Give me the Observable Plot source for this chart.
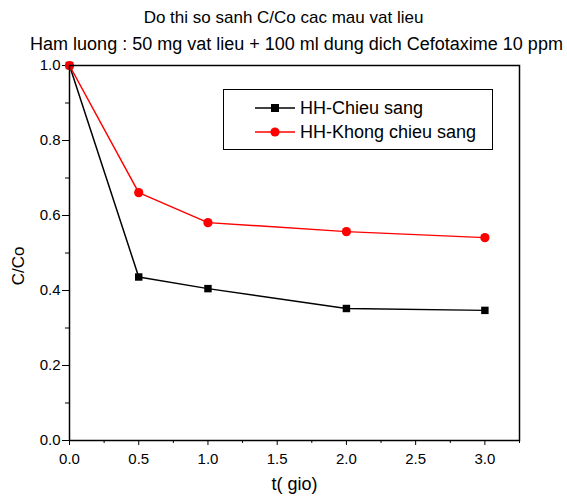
<!DOCTYPE html>
<html>
<head>
<meta charset="utf-8">
<script src="https://cdn.jsdelivr.net/npm/d3@7"></script>
<script src="https://cdn.jsdelivr.net/npm/@observablehq/plot@0.6"></script>
<style>
  html, body { margin: 0; padding: 0; background: #fff; }
  #wrap { position: relative; width: 567px; height: 497px; font-family: "Liberation Sans", Arial, sans-serif; }
  #wrap > svg { position: absolute; left: 0; top: 0; }
  .title { position: absolute; left: 0; width: 567px; text-align: center; color: #000; white-space: nowrap; }
  #legend { position: absolute; left: 223px; top: 89px; width: 270px; height: 61px; border: 1px solid #000; background: #fff; box-sizing: border-box; }
  .lrow { position: absolute; left: 31px; font-size: 18px; height: 22px; line-height: 22px; white-space: nowrap; }
  .lrow svg { display: inline-block; vertical-align: middle; margin-right: 5px; position: relative; top: -1px; }
</style>
</head>
<body>
<div id="wrap">
  <div class="title" style="top:8px;font-size:17px;">Do thi so sanh C/Co cac mau vat lieu</div>
  <div class="title" style="top:34px;left:13px;font-size:18px;">Ham luong : 50 mg vat lieu + 100 ml dung dich Cefotaxime 10 ppm</div>
</div>
<script>
const times = [0, 0.5, 1, 2, 3];
const chieuSang = [1.0, 0.436, 0.405, 0.352, 0.347];
const khongChieuSang = [1.0, 0.661, 0.581, 0.557, 0.541];
const seriesNames = ["HH-Chieu sang", "HH-Khong chieu sang"];
const seriesColors = ["#000000", "#ff0000"];
const xTicks = [0, 0.5, 1, 1.5, 2, 2.5, 3];
const xMinor = [0.25, 0.75, 1.25, 1.75, 2.25, 2.75, 3.25];
const yTicks = [0, 0.2, 0.4, 0.6, 0.8, 1.0];
const yMinor = [0.1, 0.3, 0.5, 0.7, 0.9];

const black = times.map((t, i) => ({t, v: chieuSang[i]}));
const red = times.map((t, i) => ({t, v: khongChieuSang[i]}));

const chart = Plot.plot({
  width: 567,
  height: 497,
  marginTop: 65,
  marginLeft: 69,
  marginRight: 48,
  marginBottom: 57,
  style: {fontFamily: "'Liberation Sans', Arial, sans-serif", fontSize: "15px", color: "#000", background: "transparent"},
  x: {domain: [0, 3.25]},
  y: {domain: [0, 1]},
  marks: [
    Plot.axisX({ticks: xTicks, tickFormat: d3.format(".1f"), tickSize: 5, tickPadding: 8, fontSize: 15, label: null, stroke: "#000"}),
    Plot.axisX({ticks: xMinor, text: null, tickSize: 3, label: null, stroke: "#000"}),
    Plot.axisY({ticks: yTicks, tickFormat: d3.format(".1f"), tickSize: 7, tickPadding: 2, fontSize: 15, label: null, stroke: "#000"}),
    Plot.axisY({ticks: yMinor, text: null, tickSize: 4, label: null, stroke: "#000"}),
    Plot.text(["t( gio)"], {frameAnchor: "bottom", dy: 49, fontSize: 18, fill: "#000"}),
    Plot.text(["C/Co"], {frameAnchor: "left", textAnchor: "middle", dx: -51, dy: 13, rotate: -90, fontSize: 17, fill: "#000"}),
    Plot.line(black, {x: "t", y: "v", stroke: seriesColors[0], strokeWidth: 1.5}),
    Plot.line(red, {x: "t", y: "v", stroke: seriesColors[1], strokeWidth: 1.5}),
    Plot.dot(black, {x: "t", y: "v", symbol: "square", r: 4.2, fill: seriesColors[0], stroke: "none"}),
    Plot.dot(red, {x: "t", y: "v", symbol: "circle", r: 4.6, fill: seriesColors[1], stroke: "none"}),
    Plot.frame({stroke: "#000", strokeWidth: 1.5})
  ]
});
d3.select(chart).selectAll('g[aria-label$="tick label"]').style("font-size", "15px").attr("font-size", 15);
const wrap = document.getElementById("wrap");
wrap.insertBefore(chart, wrap.firstChild);

const legend = document.createElement("div");
legend.id = "legend";
const symbols = [
  '<rect x="16" y="6" width="8" height="8" fill="#000"/>',
  '<circle cx="20" cy="10" r="4.6" fill="#ff0000"/>'
];
seriesNames.forEach((name, i) => {
  const row = document.createElement("div");
  row.className = "lrow";
  row.style.top = (7 + i * 24) + "px";
  row.innerHTML = `<svg width="40" height="20"><line x1="0" y1="10" x2="40" y2="10" stroke="${seriesColors[i]}" stroke-width="1.5"/>${symbols[i]}</svg>${name}`;
  legend.appendChild(row);
});
wrap.appendChild(legend);
</script>
</body>
</html>
